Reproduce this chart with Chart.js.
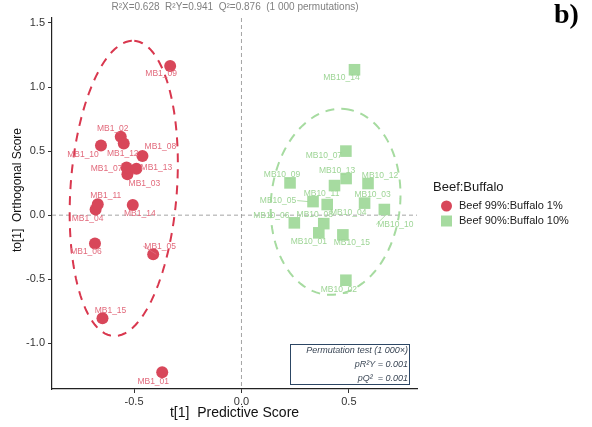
<!DOCTYPE html>
<html>
<head>
<meta charset="utf-8">
<script src="https://cdn.jsdelivr.net/npm/chart.js@4.4.0/dist/chart.umd.min.js"></script>
<style>
  html, body { margin: 0; padding: 0; background: #fff; }
  #wrap { width: 592px; height: 427px; position: relative; }
</style>
</head>
<body>
<div id="wrap"><canvas id="oplsChart" width="592" height="427"></canvas></div>
<script>
// OPLS-DA scores, group 1 (MB1_xx)
const lowSamples = ["MB1_01","MB1_02","MB1_03","MB1_04","MB1_05","MB1_06","MB1_07","MB1_08",
                    "MB1_09","MB1_10","MB1_11","MB1_12","MB1_13","MB1_14","MB1_15"];
const lowT  = [-0.369,-0.562,-0.531,-0.679,-0.411,-0.682,-0.535,-0.461,-0.332,-0.654,-0.669,-0.548,-0.489,-0.506,-0.647];
const lowTo = [-1.227, 0.612, 0.320, 0.044,-0.305,-0.222, 0.372, 0.461, 1.164, 0.544, 0.086, 0.559, 0.362, 0.080,-0.805];

// OPLS-DA scores, group 2 (MB10_xx)
const highSamples = ["MB10_01","MB10_02","MB10_03","MB10_04","MB10_05","MB10_06","MB10_07","MB10_08",
                     "MB10_09","MB10_10","MB10_11","MB10_12","MB10_13","MB10_14","MB10_15"];
const highT  = [0.360, 0.486, 0.573, 0.399, 0.333, 0.246, 0.486, 0.383, 0.226, 0.665, 0.433, 0.589, 0.487, 0.526, 0.472];
const highTo = [-0.138,-0.508, 0.094, 0.083, 0.106,-0.060, 0.500,-0.066, 0.252, 0.044, 0.231, 0.247, 0.286, 1.135,-0.154];

const groupNames = ["Beef 99%:Buffalo 1%", "Beef 90%:Buffalo 10%"];
const legendTitle = "Beef:Buffalo";
const xTicks = [-0.5, 0.0, 0.5];
const yTicks = [-1.0, -0.5, 0.0, 0.5, 1.0, 1.5];
const modelStats = "R\u00B2X=0.628  R\u00B2Y=0.941  Q\u00B2=0.876  (1 000 permutations)";
const permLines = ["Permutation test (1 000\u00D7)", "pR\u00B2Y = 0.001", "pQ\u00B2  = 0.001"];

// confidence ellipses: centre and two half-axis vectors, in score units
const lowEllipse  = { cx: -0.548, cy: 0.209, ax: 0.049, ay: 1.152, bx: 0.247, by: -0.030 };
const highEllipse = { cx: 0.438, cy: 0.104, ax: 0.044, ay: 0.724, bx: 0.299, by: -0.051 };

// label offsets in px (repelled text)
const lowNudge = [[-9,9],[-8,-8],[17,9],[-8,9],[7,-8],[-9,8],[-20,1],[18,-9],
                  [-9,8],[-18,9],[8,-8],[-1,10],[20,-1],[7,9],[8,-8]];
const highNudge = [[-10,9],[-7,9],[8,-8],[21,8],[-35,-1],[-23,-7],[-22,5],[-9,-9],
                   [-8,-8],[11,15],[-13,8],[12,-8],[-9,-8],[-13,8],[9,8]];
const leaderLines = ["MB1_05", "MB10_05", "MB10_10"];

const RED = "#d8475a";
const GREEN = "#a6dba0";
const RED_TXT = "#e26a7c";
const GREEN_TXT = "#9ed596";
const SANS = '"Liberation Sans", Arial, sans-serif';

function toPoints(xs, ys) {
  return xs.map((x, i) => ({ x: x, y: ys[i] }));
}

const scoreOverlay = {
  id: "scoreOverlay",
  beforeDatasetsDraw(chart) {
    const { ctx, chartArea: a, scales: { x, y } } = chart;
    ctx.save();
    // zero lines
    ctx.strokeStyle = "#9a9a9a";
    ctx.lineWidth = 0.9;
    ctx.setLineDash([4, 3]);
    ctx.beginPath();
    ctx.moveTo(x.getPixelForValue(0), a.top);
    ctx.lineTo(x.getPixelForValue(0), a.bottom);
    ctx.moveTo(a.left, y.getPixelForValue(0));
    ctx.lineTo(a.right, y.getPixelForValue(0));
    ctx.stroke();

    // ellipses
    [[lowEllipse, "#d9374e"], [highEllipse, "#a6dba0"]].forEach(([e, col]) => {
      ctx.strokeStyle = col;
      ctx.lineWidth = 2;
      ctx.setLineDash([9, 7]);
      ctx.beginPath();
      for (let k = 0; k <= 120; k++) {
        const t = (k / 120) * Math.PI * 2;
        const px = x.getPixelForValue(e.cx + e.ax * Math.cos(t) + e.bx * Math.sin(t));
        const py = y.getPixelForValue(e.cy + e.ay * Math.cos(t) + e.by * Math.sin(t));
        if (k === 0) ctx.moveTo(px, py); else ctx.lineTo(px, py);
      }
      ctx.stroke();
    });
    ctx.restore();
  },
  afterDatasetsDraw(chart) {
    const { ctx, scales: { x, y } } = chart;
    ctx.save();
    ctx.font = "8.5px " + SANS;
    ctx.textAlign = "center";
    ctx.textBaseline = "middle";
    const groups = [
      [lowSamples, lowT, lowTo, lowNudge, RED_TXT],
      [highSamples, highT, highTo, highNudge, GREEN_TXT]
    ];
    groups.forEach(([names, xs, ys, nudge, col]) => {
      names.forEach((name, i) => {
        const px = x.getPixelForValue(xs[i]);
        const py = y.getPixelForValue(ys[i]);
        const lx = px + nudge[i][0];
        const ly = py + nudge[i][1];
        if (leaderLines.includes(name)) {
          const w = ctx.measureText(name).width / 2;
          const ex = lx + (nudge[i][0] < 0 ? w + 1 : -w - 1);
          ctx.strokeStyle = col;
          ctx.lineWidth = 0.8;
          ctx.beginPath();
          ctx.moveTo(ex, ly);
          ctx.lineTo(px + (nudge[i][0] < 0 ? -5 : 3), py + (nudge[i][1] > 5 ? 4 : 0));
          ctx.stroke();
        }
        ctx.fillStyle = col;
        ctx.fillText(name, lx, ly);
      });
    });
    ctx.restore();
  },
  afterDraw(chart) {
    const { ctx, chartArea: a } = chart;
    ctx.save();

    // model statistics
    ctx.fillStyle = "#808080";
    ctx.font = "10px " + SANS;
    ctx.textAlign = "center";
    ctx.textBaseline = "middle";
    ctx.fillText(modelStats, 235, 7);

    // panel tag
    ctx.fillStyle = "#000";
    ctx.font = 'bold 28px "Liberation Serif", "Times New Roman", serif';
    ctx.textAlign = "left";
    ctx.textBaseline = "alphabetic";
    ctx.fillText("b)", 554, 23);

    // axis titles
    ctx.fillStyle = "#111";
    ctx.font = "14px " + SANS;
    ctx.textAlign = "center";
    ctx.textBaseline = "middle";
    ctx.fillText("t[1]  Predictive Score", (a.left + a.right) / 2, 413);
    ctx.save();
    ctx.translate(18, 190);
    ctx.rotate(-Math.PI / 2);
    ctx.font = "12px " + SANS;
    ctx.fillText("to[1]  Orthogonal Score", 0, 0);
    ctx.restore();

    // legend
    ctx.textAlign = "left";
    ctx.fillStyle = "#1a1a1a";
    ctx.font = "13px " + SANS;
    ctx.fillText(legendTitle, 433, 187);
    ctx.font = "11px " + SANS;
    ctx.fillStyle = RED;
    ctx.beginPath();
    ctx.arc(446.5, 206, 5.5, 0, Math.PI * 2);
    ctx.fill();
    ctx.fillStyle = GREEN;
    ctx.fillRect(441, 215.5, 11, 11);
    ctx.fillStyle = "#1a1a1a";
    ctx.fillText(groupNames[0], 459, 206);
    ctx.fillText(groupNames[1], 459, 221);

    // permutation test box
    ctx.fillStyle = "#fff";
    ctx.fillRect(290.5, 344.5, 119, 40);
    ctx.strokeStyle = "#2c4664";
    ctx.lineWidth = 1;
    ctx.strokeRect(290.5, 344.5, 119, 40);
    ctx.fillStyle = "#3b4756";
    ctx.font = "italic 9px " + SANS;
    ctx.textAlign = "right";
    ctx.fillText(permLines[0], 408, 350);
    ctx.fillText(permLines[1], 408, 364.5);
    ctx.fillText(permLines[2], 408, 378.5);
    ctx.restore();
  }
};

const tickFont = { family: SANS, size: 11 };

new Chart(document.getElementById("oplsChart"), {
  type: "scatter",
  data: {
    datasets: [
      {
        label: groupNames[0],
        data: toPoints(lowT, lowTo),
        pointStyle: "circle",
        pointRadius: 6,
        pointBorderWidth: 0,
        backgroundColor: RED,
        borderColor: RED
      },
      {
        label: groupNames[1],
        data: toPoints(highT, highTo),
        pointStyle: "rect",
        pointRadius: 8.2,
        pointBorderWidth: 0,
        backgroundColor: GREEN,
        borderColor: GREEN
      }
    ]
  },
  options: {
    responsive: false,
    animation: false,
    devicePixelRatio: 1,
    layout: { padding: { left: 0, top: 18, right: 175, bottom: 0 } },
    plugins: {
      legend: { display: false },
      tooltip: { enabled: false }
    },
    scales: {
      x: {
        type: "linear",
        min: -0.882,
        max: 0.817,
        afterBuildTicks: s => { s.ticks = xTicks.map(v => ({ value: v })); },
        afterFit: s => { s.height = 38; },
        ticks: { font: tickFont, color: "#333", padding: 2, callback: v => v.toFixed(1) },
        grid: { drawOnChartArea: false, drawTicks: true, tickLength: 4, color: "#333", tickWidth: 1 },
        border: { display: true, color: "#222", width: 1.2 }
      },
      y: {
        type: "linear",
        min: -1.357,
        max: 1.539,
        afterBuildTicks: s => { s.ticks = yTicks.map(v => ({ value: v })); },
        afterFit: s => { s.width = 52; },
        ticks: { font: tickFont, color: "#333", padding: 3, callback: v => v.toFixed(1) },
        grid: { drawOnChartArea: false, drawTicks: true, tickLength: 4, color: "#333", tickWidth: 1 },
        border: { display: true, color: "#222", width: 1.2 }
      }
    }
  },
  plugins: [scoreOverlay]
});
</script>
</body>
</html>
